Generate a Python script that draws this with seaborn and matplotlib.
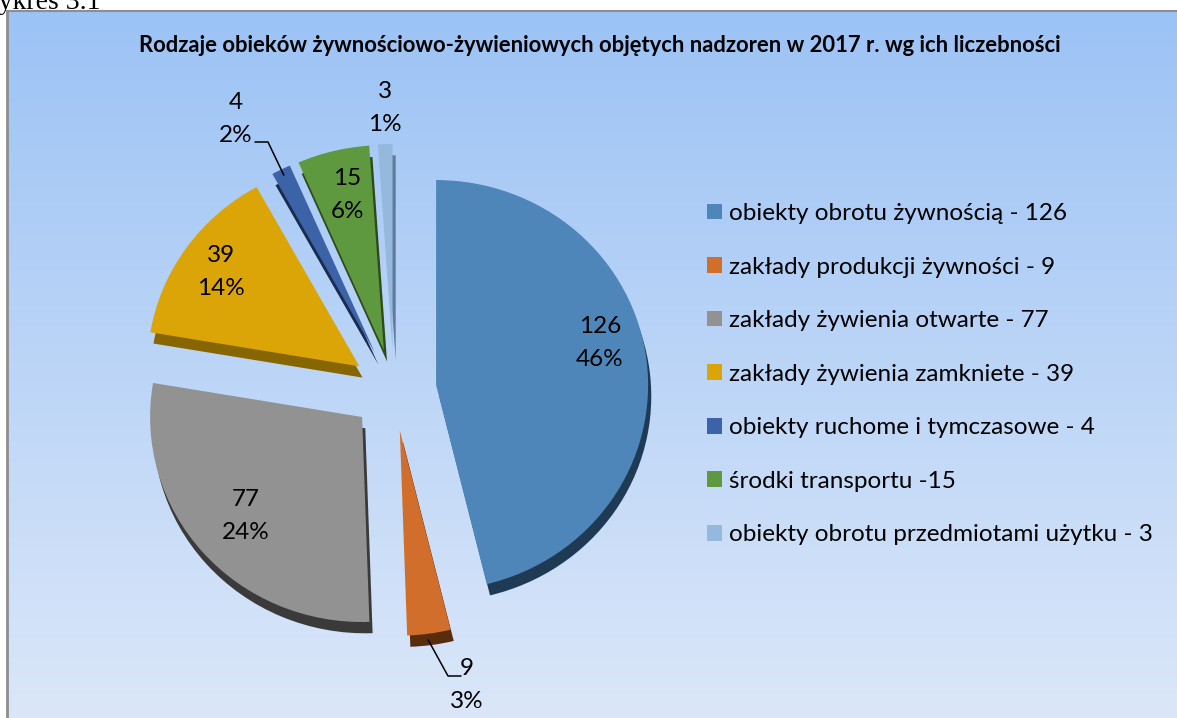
import numpy as np
import matplotlib
matplotlib.use("Agg")
import matplotlib.pyplot as plt
import seaborn as sns
from matplotlib.patches import Patch
from matplotlib.lines import Line2D
from matplotlib.colors import LinearSegmentedColormap

# ---------------- data ----------------
title = "Rodzaje obieków żywnościowo-żywieniowych objętych nadzoren w 2017 r. wg ich liczebności"
categories = [
    "obiekty obrotu żywnością - 126",
    "zakłady produkcji żywności - 9",
    "zakłady żywienia otwarte - 77",
    "zakłady żywienia zamkniete - 39",
    "obiekty ruchome i tymczasowe - 4",
    "środki transportu -15",
    "obiekty obrotu przedmiotami użytku - 3",
]
values = [126, 9, 77, 39, 4, 15, 3]
pct_labels = ["46%", "3%", "24%", "14%", "2%", "6%", "1%"]

# ---------------- style ----------------
colors = ["#4F86B9", "#D26E2B", "#929292", "#DBA507", "#3C63A8", "#5F993F", "#95B8DD"]
shadow_colors = ["#1F3A55", "#5A2C0E", "#3A3A3A", "#876600", "#1A2B4C", "#2E4A1C", "#5F7C9C"]

sns.set_theme(style="white")
plt.rcParams["font.family"] = ["Lato", "DejaVu Sans"]

W, H = 1177, 718
fig = plt.figure(figsize=(W / 100, H / 100), dpi=100)
fig.patch.set_facecolor("white")

# chart area background (gradient)
left_px, top_px = 7, 11
bg = fig.add_axes([left_px / W, 0, 1 - left_px / W, (H - top_px) / H])
grad = np.linspace(0, 1, 256)[:, None]
cmap = LinearSegmentedColormap.from_list("bg", ["#9CC3F5", "#DBE7F9"])
bg.imshow(grad, aspect="auto", cmap=cmap, extent=[0, 1, 0, 1], origin="upper")
bg.axis("off")
fig.add_artist(Line2D([left_px / W, left_px / W], [0, (H - top_px) / H],
                      color="#8E8E8E", lw=2, transform=fig.transFigure))
fig.add_artist(Line2D([left_px / W, 1], [(H - top_px) / H, (H - top_px) / H],
                      color="#8E8E8E", lw=1.5, transform=fig.transFigure))

# caption above the chart box (partially cut, as in the source page)
fig.text(-26 / W, 1 - 9 / H, "Wykres 3.1", fontsize=20, family=["Liberation Serif"],
         ha="left", va="baseline", color="black")

# main axes, data units: pie radius = 1 -> 212 px horizontally, 205 px vertically
cx, cy, RX, RY = 394, 390, 212, 205
ax = fig.add_axes([0, 0, 1, 1])
ax.patch.set_alpha(0)

explode = [0.2] * len(values)
# 3D depth (shadow copy)
ax.pie(values, explode=explode, colors=shadow_colors, startangle=90, counterclock=False,
       center=(0.015, -0.055), wedgeprops=dict(linewidth=0))
wedges, _ = ax.pie(values, explode=explode, colors=colors, startangle=90,
                   counterclock=False, wedgeprops=dict(linewidth=0))

ax.set_xlim(-cx / RX, (W - cx) / RX)
ax.set_ylim((cy - H) / RY, cy / RY)
ax.set_aspect("auto")
ax.axis("off")

def px2d(x, y):
    return ((x - cx) / RX, (cy - y) / RY)

label_fs = 17.5
lsp = 1.7
# radial distance, angle offset (deg) of the inside labels
inside = {0: (0.80, 8), 2: (0.73, 0), 3: (0.80, 0), 5: (0.776, -1)}
for i, (r, dth) in inside.items():
    w = wedges[i]
    th = np.deg2rad((w.theta1 + w.theta2) / 2 + dth)
    x0, y0 = w.center
    ax.text(x0 + r * np.cos(th), y0 + r * np.sin(th), f"{values[i]}\n{pct_labels[i]}",
            ha="center", va="center", fontsize=label_fs, linespacing=lsp, color="black")

# outside labels with leader lines (text positions in px)
outside = {
    4: dict(text=(236, 119), line=[(255, 142), (268, 142)]),
    6: dict(text=(385, 108), line=None),
    1: dict(text=(467, 685), line=[(461, 676), (448, 676)]),
}
for i, spec in outside.items():
    w = wedges[i]
    tx, ty = px2d(*spec["text"])
    ax.text(tx, ty, f"{values[i]}\n{pct_labels[i]}", ha="center", va="center",
            fontsize=label_fs, linespacing=lsp, color="black")
    if spec["line"]:
        th = np.deg2rad((w.theta1 + w.theta2) / 2)
        x0, y0 = w.center
        ex, ey = x0 + 0.97 * np.cos(th), y0 + 0.97 * np.sin(th)
        if i == 1:
            ey -= 0.06
        pts = [px2d(*p) for p in spec["line"]] + [(ex, ey)]
        ax.plot([p[0] for p in pts], [p[1] for p in pts], color="black", lw=1.1)

fig.text(600 / W, 1 - 45 / H, title, ha="center", va="center", fontsize=15.8,
         fontweight="bold", color="black")

handles = [Patch(facecolor=c, edgecolor="none") for c in colors]
fig.legend(handles, categories, loc="upper left", bbox_to_anchor=(707 / W, 1 - 203 / H),
           frameon=False, fontsize=17.5, handlelength=0.62, handleheight=0.62,
           handletextpad=0.3, labelspacing=1.34, borderaxespad=0, borderpad=0,
           labelcolor="black")

fig.savefig("out.png", dpi=100)
